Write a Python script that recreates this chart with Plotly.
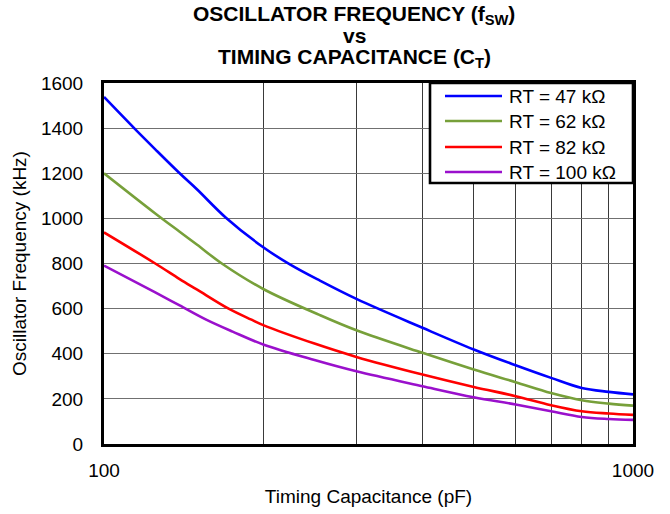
import plotly.graph_objects as go

# Data
cap_47 = [100, 114, 125, 139, 150, 170, 200, 225, 256, 300, 400, 500, 600, 700, 800, 900, 1000]
f_rt47 = [1538, 1400, 1306, 1200, 1128, 1003, 872, 795, 724, 643, 515, 419, 349, 293, 248, 231, 220]

cap_62 = [100, 125, 139, 150, 167, 200, 256, 300, 400, 500, 600, 700, 800, 900, 1000]
f_rt62 = [1200, 1022, 941, 883, 800, 687, 571, 504, 404, 330, 274, 226, 194, 179, 170]

cap_82 = [100, 125, 139, 150, 172, 190, 200, 250, 300, 400, 500, 600, 700, 800, 900, 1000]
f_rt82 = [938, 800, 731, 684, 600, 551, 527, 445, 386, 308, 253, 212, 172, 145, 135, 129]

cap_100 = [100, 125, 139, 156, 175, 200, 250, 300, 400, 500, 600, 700, 800, 900, 1000]
f_rt100 = [791, 672, 614, 551, 498, 441, 372, 322, 256, 207, 175, 145, 120, 111, 107]

series_names = ["RT = 47 k\u03a9", "RT = 62 k\u03a9", "RT = 82 k\u03a9", "RT = 100 k\u03a9"]
series_x = [cap_47, cap_62, cap_82, cap_100]
series_vals = [f_rt47, f_rt62, f_rt82, f_rt100]
colors = ["#0000FF", "#77A03A", "#FF0000", "#9A10CC"]

x_ticks = [100, 1000]
x_minor = [200, 300, 400, 500, 600, 700, 800, 900]
y_ticks = [0, 200, 400, 600, 800, 1000, 1200, 1400, 1600]

FONT = "Arial, Liberation Sans, sans-serif"

W, H = 670, 514
L, R, T, B = 104, 633, 83, 444
def px(x):
    return (x - L) / (R - L)
def py(y):
    return (B - y) / (B - T)

fig = go.Figure()
for name, xs, vals, col in zip(series_names, series_x, series_vals, colors):
    fig.add_trace(go.Scatter(x=xs, y=vals, mode="lines", name=name, showlegend=False,
                             line=dict(color=col, width=2.6, shape="spline", smoothing=1.0)))

fig.update_layout(
    width=W, height=H,
    margin=dict(l=L, r=W - R, t=T, b=H - B, autoexpand=False),
    paper_bgcolor="white", plot_bgcolor="white",
    font=dict(family=FONT, size=19, color="black"),
    showlegend=False,
    xaxis=dict(type="log", range=[2, 3], tickvals=x_ticks, ticktext=["100", "1000"],
               showgrid=True, gridcolor="#222", gridwidth=1,
               minor=dict(tickvals=x_minor, showgrid=True, gridcolor="#3a3a3a", gridwidth=1, ticks=""),
               showline=True, mirror=True, linecolor="black", linewidth=3,
               ticks="", ticklabelstandoff=7, automargin=False,
               title=dict(text="Timing Capacitance (pF)", standoff=10, font=dict(size=19)),
               zeroline=False),
    yaxis=dict(range=[0, 1600], tickvals=y_ticks, showgrid=True, gridcolor="#707070", gridwidth=1.3,
               showline=True, mirror=True, linecolor="black", linewidth=3,
               ticks="", ticklabelstandoff=14, automargin=False,
               title=dict(text="Oscillator Frequency (kHz)", standoff=10, font=dict(size=19)),
               zeroline=False),
)

title_lines = ["OSCILLATOR FREQUENCY (f<sub>SW</sub>)", "vs", "TIMING CAPACITANCE (C<sub>T</sub>)"]
title_px = [15, 36, 58]
for txt, ty in zip(title_lines, title_px):
    fig.add_annotation(text="<b>" + txt + "</b>", xref="paper", yref="paper",
                       x=px(354), y=py(ty), xanchor="center", yanchor="middle",
                       showarrow=False, font=dict(family=FONT, size=21, color="black"))

# legend box (drawn manually to match reference layout)
fig.add_shape(type="rect", xref="paper", yref="paper",
              x0=px(430), x1=px(633), y0=py(183), y1=py(83),
              fillcolor="white", line=dict(color="black", width=2.6), layer="above")
legend_rows = [96, 121, 147, 172]
for name, col, ry in zip(series_names, colors, legend_rows):
    fig.add_shape(type="line", xref="paper", yref="paper",
                  x0=px(445), x1=px(502), y0=py(ry), y1=py(ry),
                  line=dict(color=col, width=2.6), layer="above")
    fig.add_annotation(text=name, xref="paper", yref="paper", x=px(507), y=py(ry),
                       xanchor="left", yanchor="middle", showarrow=False,
                       font=dict(family=FONT, size=19, color="black"))

# remove the browser's default 8 px body margin so the figure fills the window
fig.write_html("out.html", config={"displayModeBar": False},
               post_script="document.body.style.margin='0';")
